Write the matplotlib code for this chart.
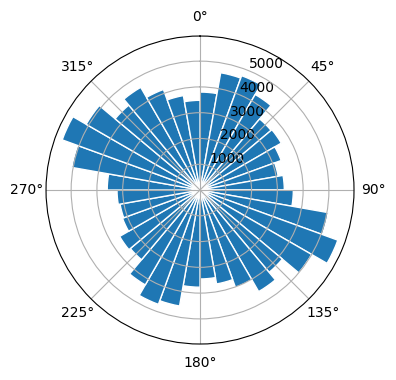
import numpy as np
import matplotlib
matplotlib.use("Agg")
import matplotlib.pyplot as plt

# bin start angles (degrees, compass: 0 = North, clockwise)
bin_starts_deg = list(range(0, 360, 10))
# counts per 10-degree bin
counts = [
    3800, 4620, 4720, 4280, 3600, 3640, 3350, 3080, 3270,   # 0-90
    3620, 5050, 5690, 5000, 4170, 4550, 4020, 3700, 3450,   # 90-180
    3770, 4570, 4720, 4250, 3530, 3600, 3200, 3150, 3220,   # 180-270
    3600, 5050, 5690, 5100, 4300, 4600, 4150, 3720, 3480,   # 270-360
]
bin_width_deg = 10

fig = plt.figure(figsize=(3.96, 3.80), dpi=100)
ax = fig.add_axes([0.1162, 0.0947, 0.7778, 0.8105], projection="polar")
ax.set_theta_zero_location("N")
ax.set_theta_direction(-1)

theta = np.deg2rad(bin_starts_deg)
ax.bar(theta, counts, width=np.deg2rad(bin_width_deg), align="edge",
       color="#1f77b4", edgecolor="white", linewidth=1)

fig.savefig("out.png", dpi=100)
